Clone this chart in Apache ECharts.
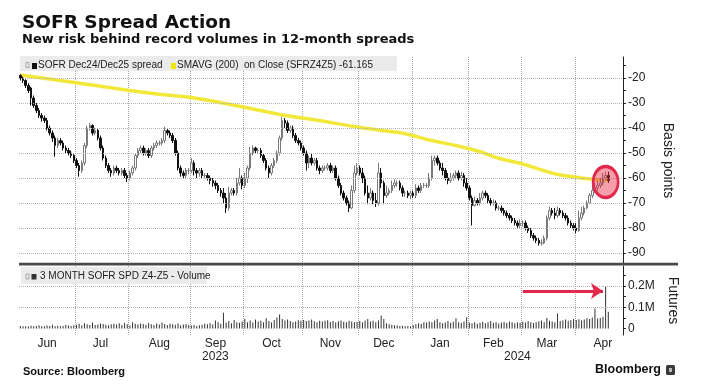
<!DOCTYPE html>
<html><head><meta charset="utf-8">
<script src="https://cdn.jsdelivr.net/npm/echarts@6/dist/echarts.min.js"></script>
<style>html,body{margin:0;padding:0;background:#fff}#c{width:701px;height:391px}</style>
</head><body><div id="c"></div>
<script>
// ---- data ----
const months = ['Jun','Jul','Aug','Sep','Oct','Nov','Dec','Jan','Feb','Mar','Apr'];
const monthDays = [21,20,23,20,22,21,20,21,20,20,22]; // trading days per month
const axisDays = 226;
const years = ['2023','2024'];
const yearMonths = [7,4];

const opens = [
-19,-20,-21,-23,-24,-28,-31,-33,-35,-36,
-37,-40,-42,-44,-47,-45,-46,-48,-49,-50,
-51,-53,-55,-57,-54,-47,-40,-39,-42,-41,
-44,-48,-52,-55,-57,-58,-56,-57,-58,-57,
-59,-60,-58,-56,-51,-49,-48,-50,-49,-51,
-48,-47,-46,-46,-45,-41,-42,-43,-45,-50,
-56,-58,-59,-57,-57,-54,-57,-58,-57,-59,
-59,-60,-61,-62,-63,-65,-66,-68,-72,-66,
-65,-66,-62,-60,-63,-60,-56,-50,-48,-49,
-49,-51,-53,-56,-58,-55,-53,-50,-44,-37,
-38,-41,-40,-43,-45,-46,-48,-50,-54,-52,
-54,-53,-56,-57,-56,-56,-55,-57,-56,-60,
-63,-66,-68,-70,-72,-65,-58,-56,-58,-60,
-66,-68,-66,-69,-70,-58,-62,-67,-66,-65,
-63,-62,-62,-64,-66,-66,-67,-66,-67,-64,
-65,-63,-63,-63,-60,-53,-52,-54,-56,-57,
-60,-61,-60,-59,-58,-60,-59,-62,-64,-68,
-71,-69,-70,-68,-66,-67,-69,-70,-70,-72,
-72,-73,-74,-75,-76,-77,-78,-79,-78,-78,
-80,-81,-83,-84,-85,-86,-86,-84,-76,-73,
-74,-75,-73,-74,-75,-76,-78,-79,-80,-81,
-76,-74,-72,-70,-67,-65,-64,-63,-62,-60,
-59];
const closes = [
-20,-21,-23,-25,-28,-31,-33,-35,-36,-37,
-40,-42,-44,-47,-45,-46,-48,-49,-50,-51,
-53,-55,-57,-54,-47,-40,-39,-42,-41,-44,
-48,-52,-55,-57,-58,-56,-57,-58,-57,-59,
-60,-58,-56,-51,-49,-48,-50,-49,-51,-48,
-47,-46,-46,-45,-41,-42,-43,-45,-50,-56,
-58,-59,-57,-57,-54,-57,-58,-57,-59,-59,
-60,-61,-62,-63,-65,-66,-68,-72,-66,-65,
-66,-62,-60,-63,-60,-56,-50,-48,-49,-49,
-51,-53,-56,-58,-55,-53,-50,-44,-37,-38,
-41,-40,-43,-45,-46,-48,-50,-54,-52,-54,
-53,-56,-57,-56,-56,-55,-57,-56,-60,-63,
-66,-68,-70,-72,-65,-58,-56,-58,-60,-66,
-68,-66,-69,-70,-58,-62,-67,-66,-65,-63,
-62,-62,-64,-66,-66,-67,-66,-67,-64,-65,
-63,-63,-63,-60,-53,-52,-54,-56,-57,-60,
-61,-60,-59,-58,-60,-59,-62,-64,-68,-71,
-69,-70,-68,-66,-67,-69,-70,-70,-72,-72,
-73,-74,-75,-76,-77,-78,-79,-78,-78,-80,
-81,-83,-84,-85,-86,-86,-84,-76,-73,-74,
-75,-73,-74,-75,-76,-78,-79,-80,-81,-76,
-74,-72,-70,-67,-65,-64,-63,-62,-60,-59,
-61];
const highs = [
-18.5,-19.5,-20.5,-22,-23.5,-27,-30,-32,-34,-35,
-36,-39,-41,-43,-44,-44,-45,-47,-48,-49,
-50,-52,-54,-53,-46,-39,-38,-38.5,-40,-40,
-43,-47,-51,-54,-56,-55,-55,-56,-56,-56,
-58,-57,-55,-50,-48,-47,-47,-48,-48,-47,
-46,-45,-45,-44,-39.5,-40,-41,-42,-44,-49,
-55,-57,-56,-56,-52,-53,-56,-56,-56,-58,
-58,-59,-60,-61,-62,-64,-64,-66,-63.5,-64,
-64,-60,-56,-59,-58,-55,-47.5,-47,-47.5,-48,
-48,-50,-52,-55,-54,-52,-49,-43,-35.5,-36,
-37,-39,-39,-42,-44,-45,-47,-49,-51,-50,
-52,-52,-55,-55,-55,-54,-54,-55,-55,-59,
-62,-65,-67,-69,-63,-55,-54,-55,-56,-59,
-63,-64,-65,-66,-54,-56,-61,-63,-64,-61,
-60.5,-61,-61,-63,-65,-65,-65,-65,-62.5,-63,
-62,-62,-62,-58,-51,-51,-51,-53,-54,-56,
-58,-58,-58,-57,-57,-57.5,-58,-60,-63,-67,
-67.5,-68,-66,-65,-65,-66,-68,-68.5,-69,-71,
-71,-72,-73,-74,-75,-76,-77,-76.5,-77,-77,
-79,-80,-82,-83,-84,-84.5,-83,-75,-71.5,-72,
-72,-71.5,-72,-73,-74,-75,-77,-78,-78,-73,
-71.5,-71,-69,-66,-62.5,-62,-61,-60,-58,-57.5,
-57.5];
const lows = [
-21,-22,-24,-26,-31,-32,-34,-36,-37.5,-38,
-41,-43,-45.5,-51.5,-48,-47,-49,-50,-51,-52,
-54,-56,-59.5,-58,-55,-48,-41,-43,-43,-45,
-49,-53,-56,-58,-59.5,-59,-58,-59,-59,-60,
-61.6,-61,-59,-57,-52,-50,-51,-51,-52,-52,
-49,-48,-47,-47,-46,-43,-44,-46,-51,-57,
-59.5,-60,-60,-58.5,-58,-59,-60,-59.5,-60,-60,
-61,-62.5,-63.5,-64.5,-66,-67.5,-70,-74,-73,-67,
-67,-67,-63,-64.5,-64,-62,-57,-51,-50,-50.5,
-52,-54,-57,-60,-59,-56,-54,-51,-45,-40,
-42,-42,-44,-46,-47,-49,-51,-57,-56,-55,
-55,-57,-58.5,-58,-57,-57,-58,-58,-61,-64,
-67,-69,-71,-73.6,-72.5,-66,-59,-59,-62,-67,
-70.5,-69,-70.5,-71.6,-71,-64,-70.5,-68,-67,-66,
-64,-63.5,-65,-67.5,-67.5,-68,-68.5,-68,-68,-66,
-66,-64,-64,-64,-61,-55,-55,-57,-59,-61,
-62.5,-62,-61,-60,-61,-61,-63.5,-65,-69,-79,
-71.5,-71,-71,-69,-68,-70,-71,-71,-73,-73,
-74,-75,-76,-77,-78,-79,-80,-80,-79.5,-81,
-82,-84,-85,-86,-87,-87,-86.5,-85,-77,-75,
-76.5,-76,-75,-76,-77,-79,-80,-81,-82,-81.5,
-77,-75,-72.5,-70.5,-68,-66,-65,-64,-63,-61,
-62];
// 200-day moving average, read at points along the curve (day index, value)
const maIdx = [0,21,40,55,64,83,98,110,126,134,141,146,153,165,172,179,188,196,202,208,214,220];
const maVal = [-18.8,-21.9,-24.9,-26.8,-27.8,-31.5,-34.8,-36.7,-39.6,-40.8,-41.7,-42.8,-44.8,-47.5,-49.5,-52.1,-54.4,-57.1,-58.8,-59.7,-60.5,-60.8];
// volume, thousands of contracts
const volume = [
12,10,11,9,13,10,12,15,11,10,14,12,18,11,13,10,12,16,14,12,15,
18,22,15,25,20,17,28,16,19,24,21,18,15,20,22,19,25,17,26,20,
14,30,22,19,24,21,18,26,20,17,23,19,28,21,16,22,20,18,24,15,19,21,17,
14,16,12,15,18,22,20,25,19,38,30,22,74,28,35,25,40,30,27,33,
45,30,38,28,42,33,36,30,48,35,29,40,52,66,45,38,42,35,30,33,39,36,
40,35,38,42,34,30,37,33,36,39,31,35,28,34,38,32,30,36,33,29,31,
35,30,38,45,33,36,30,38,61,45,25,20,18,15,14,12,13,10,12,11,
15,20,25,22,30,28,33,30,38,45,30,25,28,35,27,32,48,30,27,33,53,
28,25,30,22,27,32,25,29,35,27,30,24,28,31,26,33,29,25,30,27,
32,28,35,30,26,29,34,38,29,50,36,33,30,71,35,38,42,36,39,45,
40,44,38,42,48,45,52,94,47,50,55,197,79];
const priceLabels = [-20,-30,-40,-50,-60,-70,-80,-90];
const priceTickVals = [-15,-20,-25,-30,-35,-40,-45,-50,-55,-60,-65,-70,-75,-80,-85,-90];
const volLabels = [0,100,200];
const volTickVals = [0,50,100,150,200,250];
const lastMA = '-61.165';
const highlight = [219, -61.6];          // circled area (day index, bp)
const arrowFrom = [188, 177], arrowTo = [218, 177]; // (day index, thousands)

// ---- structure ----
const monthStart = []; let acc = 0;
monthDays.forEach(d => { monthStart.push(acc); acc += d; });
const categories = [];
months.forEach((m, k) => { for (let d = 1; d <= monthDays[k] && categories.length < axisDays; d++) categories.push(m + ' ' + d); });
const labelAt = {};
months.forEach((m, k) => { labelAt[monthStart[k] + Math.floor((monthDays[k] - 1) / 2)] = m; });
const boundarySet = new Set(monthStart.slice(1));

const FONT = '"Liberation Sans", Arial, sans-serif';
const GRID_COLOR = '#b4b4b4';
const vGrid = { show: true, interval: (i) => boundarySet.has(i), lineStyle: { color: '#a6a6a6', width: 1, type: [1, 1] } };

const chart = echarts.init(document.getElementById('c'), null, { renderer: 'canvas', width: 701, height: 391 });
const option = {
  animation: false,
  backgroundColor: '#ffffff',
  textStyle: { fontFamily: FONT },
  grid: [
    { left: 19, right: 78, top: 57, height: 207 },
    { left: 19, right: 78, top: 266, height: 69 }
  ],
  xAxis: [
    { type: 'category', gridIndex: 0, data: categories, boundaryGap: true,
      axisLine: { show: false }, axisLabel: { show: false },
      axisTick: { show: false, interval: (i) => boundarySet.has(i) }, splitLine: vGrid },
    { type: 'category', gridIndex: 1, data: categories, boundaryGap: true,
      axisLine: { show: false }, axisTick: { show: false, interval: (i) => boundarySet.has(i) }, splitLine: vGrid,
      axisLabel: { show: true, interval: (i) => labelAt[i] !== undefined, formatter: (v, i) => labelAt[i] || '',
        color: '#222', fontSize: 12, margin: 3, fontFamily: FONT } }
  ],
  yAxis: [
    { type: 'value', gridIndex: 0, position: 'right', min: -94.4, max: -11.6,
      axisLine: { show: true, lineStyle: { color: '#222', width: 1 } },
      axisTick: { show: true, customValues: priceTickVals, length: 3, lineStyle: { color: '#222' } },
      axisLabel: { show: true, customValues: priceLabels, color: '#222', fontSize: 12, margin: 5, fontFamily: FONT },
      splitLine: { show: false },
      name: 'Basis points', nameLocation: 'middle', nameRotate: -90, nameGap: 38,
      nameTextStyle: { fontSize: 14, color: '#222', fontFamily: FONT } },
    { type: 'value', gridIndex: 1, position: 'right', min: -30.7, max: 294.8,
      axisLine: { show: true, lineStyle: { color: '#222', width: 1 } },
      axisTick: { show: true, customValues: volTickVals, length: 3, lineStyle: { color: '#222' } },
      axisLabel: { show: true, customValues: volLabels, color: '#222', fontSize: 12, margin: 5, fontFamily: FONT,
        formatter: (v) => v === 0 ? '0' : (v / 1000) + 'M' },
      splitLine: { show: false },
      name: 'Futures', nameLocation: 'middle', nameRotate: -90, nameGap: 38,
      nameTextStyle: { fontSize: 14, color: '#222', fontFamily: FONT } }
  ],
  series: [
    { type: 'line', xAxisIndex: 0, yAxisIndex: 0, data: [], z: 0, silent: true,
      markLine: { silent: true, symbol: ['none', 'none'], label: { show: false },
        lineStyle: { type: 'dotted', color: GRID_COLOR, width: 1 }, emphasis: { disabled: true },
        data: priceLabels.map(v => ({ yAxis: v })) } },
    { type: 'line', xAxisIndex: 1, yAxisIndex: 1, data: [], z: 0, silent: true,
      markLine: { silent: true, symbol: ['none', 'none'], label: { show: false },
        lineStyle: { type: 'dotted', color: GRID_COLOR, width: 1 }, emphasis: { disabled: true },
        data: [{ yAxis: 100 }, { yAxis: 200 }] } },
    { type: 'line', xAxisIndex: 0, yAxisIndex: 0, name: 'SMAVG',
      data: maIdx.map((x, k) => [x, maVal[k]]), smooth: 0.4, symbol: 'none', z: 2,
      lineStyle: { color: '#f1e83a', width: 3.5 } },
    { type: 'candlestick', xAxisIndex: 0, yAxisIndex: 0, name: 'SOFR',
      data: closes.map((c, i) => [opens[i], c, lows[i], highs[i]]), barWidth: 2, z: 3,
      itemStyle: { color: '#ffffff', color0: '#111111', borderColor: '#7a7a7a', borderColor0: '#111111', borderWidth: 1 },
      markPoint: { silent: true, symbol: 'circle', symbolSize: [25, 31], label: { show: false },
        itemStyle: { color: 'rgba(232,40,70,0.45)', borderColor: '#e3284b', borderWidth: 3 },
        data: [{ coord: highlight }] } },
    { type: 'bar', xAxisIndex: 1, yAxisIndex: 1, name: 'Volume', data: volume, barWidth: 1, z: 3,
      itemStyle: { color: '#333333' } },
    { type: 'line', xAxisIndex: 1, yAxisIndex: 1, data: [], z: 5, silent: true,
      markLine: { silent: true, symbol: ['none', 'arrow'], symbolSize: [12, 12], label: { show: false },
        lineStyle: { type: 'solid', color: '#e3284b', width: 3 },
        data: [[{ coord: arrowFrom }, { coord: arrowTo }]] } }
  ]
};
chart.setOption(option);

function txt(text, x, y, font, fill, align) {
  return { type: 'text', x: x, y: y, z: 50, silent: true,
    style: { text: text, font: font, fill: fill || '#222', textAlign: align || 'left', textVerticalAlign: 'middle',
      align: align || 'left', verticalAlign: 'middle' } };
}
const els = [
  txt('SOFR Spread Action', 22, 23.5, 'bold 18.5px "DejaVu Sans"', '#111'),
  txt('New risk behind record volumes in 12-month spreads', 22, 39.5, 'bold 13px "DejaVu Sans"', '#111'),
  // legend top
  { type: 'rect', z: 40, silent: true, shape: { x: 20, y: 56, width: 377, height: 15 }, style: { fill: '#ebebeb' } },
  { type: 'rect', z: 41, silent: true, shape: { x: 26, y: 62.5, width: 3, height: 5 }, style: { fill: 'none', stroke: '#9a9a9a', lineWidth: 0.8 } },
  { type: 'rect', z: 41, silent: true, shape: { x: 32, y: 63, width: 5, height: 6 }, style: { fill: '#111' } },
  txt('SOFR Dec24/Dec25 spread', 38, 65.5, '10px ' + FONT, '#222'),
  { type: 'rect', z: 41, silent: true, shape: { x: 171, y: 63, width: 5, height: 6 }, style: { fill: '#f1e600' } },
  txt('SMAVG (200)  on Close (SFRZ4Z5) ' + lastMA, 177, 65.5, '10px ' + FONT, '#222'),
  // separator
  { type: 'rect', z: 45, silent: true, shape: { x: 19, y: 262.8, width: 659, height: 2.6 }, style: { fill: '#4a4a4a' } },
  // legend bottom
  { type: 'rect', z: 40, silent: true, shape: { x: 21, y: 267, width: 186, height: 17 }, style: { fill: '#ebebeb' } },
  { type: 'rect', z: 41, silent: true, shape: { x: 26, y: 274, width: 3, height: 5 }, style: { fill: 'none', stroke: '#9a9a9a', lineWidth: 0.8 } },
  { type: 'rect', z: 41, silent: true, shape: { x: 31.5, y: 274, width: 5, height: 5.5 }, style: { fill: '#333' } },
  txt('3 MONTH SOFR SPD Z4-Z5 - Volume', 40, 276.5, '10px ' + FONT, '#222'),
  // footer
  txt('Source: Bloomberg', 23, 372, 'bold 11px ' + FONT, '#111'),
  txt('Bloomberg', 595, 370, 'bold 12.5px ' + FONT, '#111'),
  { type: 'rect', z: 41, silent: true, shape: { x: 666, y: 365, width: 9, height: 10, r: 1.5 }, style: { fill: '#3a3a3a' } },
  { type: 'rect', z: 42, silent: true, shape: { x: 669, y: 368, width: 3, height: 4 }, style: { fill: '#bbb' } }
];
let s = 0;
years.forEach((y, k) => {
  const a = monthStart[s];
  s += yearMonths[k];
  const b = (s < monthStart.length ? monthStart[s] : axisDays) - 1;
  const px = chart.convertToPixel({ xAxisIndex: 1 }, Math.round((a + Math.min(b, axisDays - 1)) / 2));
  els.push(txt(y, px, 357, '12px ' + FONT, '#222', 'center'));
});
chart.setOption({ graphic: { elements: els } });
</script>
</body></html>
